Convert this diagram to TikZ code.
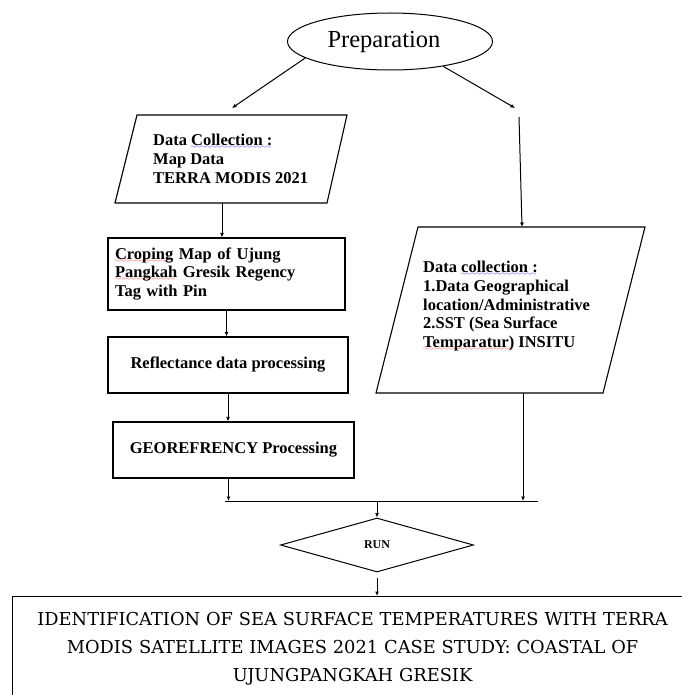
\documentclass[tikz,border=0pt]{standalone}
\usepackage{fontspec}
\setmainfont{Liberation Serif}
\newfontfamily\slabfont{DejaVu Serif}
\usetikzlibrary{arrows.meta,shapes.geometric}
\font\wavefont=lasy6
\newcommand{\wavy}[2]{\leavevmode\setbox0\hbox{#2}\rlap{\textcolor{#1}{\lower3pt\hbox to \wd0{\leaders\hbox{\wavefont\char58}\hfill}}}\box0\relax}
\newcommand{\redsq}[1]{\wavy{red}{#1}}
\newcommand{\bluesq}[1]{\wavy{blue}{#1}}
\tikzset{
  txt/.style={font=\fontsize{16.5}{18.7}\selectfont\bfseries, align=left, inner sep=0pt},
  procbox/.style={draw, line width=1.1pt, inner sep=0pt, font=\fontsize{16.5}{18.7}\selectfont\bfseries},
  conn/.style={line width=1pt, -{Latex[length=4.5pt,width=4pt]}},
  joinline/.style={line width=1pt}
}

\begin{document}
\begin{tikzpicture}[x=1pt,y=-1pt]
   \useasboundingbox (0,0) rectangle (681,695);
 %
   \node[draw, ellipse, line width=1pt, minimum width=205pt, minimum height=57pt, inner sep=0pt,
         font=\fontsize{24.5}{28}\selectfont] (prep) at (390,41.5) {\hspace{-12pt}Preparation};
 %
   \draw[line width=1.1pt] (137,115) -- (347,115) -- (327,203) -- (115,203) -- cycle;
   \node[txt, anchor=north west] (dcmap) at (153,134) {Data \bluesq{Collection :}\\Map Data\\TERRA MODIS 2021};
   \draw[line width=1.1pt] (418,227) -- (645,227) -- (603,393) -- (376,393) -- cycle;
   \node[txt, anchor=north west] (dcsst) at (423,261) {Data \bluesq{collection :}\\1.Data Geographical\\location/Administrative\\2.SST (Sea Surface\\\redsq{Temparatur)} INSITU};
 %
   \node[procbox, minimum width=237pt, minimum height=72pt, text width=223pt, align=left] (crop) at (226.5,274)
        {\redsq{Croping} Map of Ujung\\\redsq{Pangkah} Gresik Regency\\Tag with Pin};
   \node[procbox, minimum width=240pt, minimum height=56pt] (refl) at (228,365) {Reflectance data processing};
   \node[procbox, minimum width=241pt, minimum height=56pt] (geo) at (233.5,450) {GEOREFRENCY Processing};
 %
   \node[draw, diamond, line width=1pt, minimum width=193pt, minimum height=54pt, inner sep=0pt,
         font=\fontsize{12}{14}\selectfont\bfseries] (run) at (377,545) {RUN};
   \node[draw, line width=1.1pt, anchor=north west, inner xsep=10pt, inner ysep=16pt, text width=660pt, align=center,
         font=\slabfont\fontsize{17.8}{28}\selectfont] (result) at (12,596)
        {IDENTIFICATION OF SEA SURFACE TEMPERATURES WITH TERRA\\MODIS SATELLITE IMAGES 2021 CASE STUDY: COASTAL OF\\UJUNGPANGKAH GRESIK};
 %
   \coordinate (dctop) at (232,108);
   \coordinate (rtop)  at (515,108);
   \coordinate (rdown) at (519,117);
   \coordinate (sstop) at (522,227);
   \coordinate (dcbot) at (222,203);
   \coordinate (ssbot) at (523,393);
   \coordinate (joinL) at (225,501);
   \coordinate (joinM) at (377,501);
   \coordinate (joinR) at (538,501);
 %
   \draw[conn] (prep.191) -- (dctop);
   \draw[conn] (prep.-25) -- (rtop);
   \draw[conn] (rdown) -- (sstop);
   \draw[conn] (dcbot) -- (dcbot |- crop.north);
   \draw[conn] (crop.south) -- (crop.south |- refl.north);
   \draw[conn] (refl.south) -- (refl.south |- geo.north);
   \draw[conn] ([xshift=-5pt]geo.south) -- ([xshift=-5pt]geo.south |- joinL);
   \draw[conn] (ssbot) -- (ssbot |- joinL);
   \draw[joinline] (joinL) -- (joinR);
   \draw[conn] (joinM) -- (run.north);
   \draw[conn] ([yshift=-5pt]run.south) -- (run.south |- result.north);
\end{tikzpicture}
\end{document}
